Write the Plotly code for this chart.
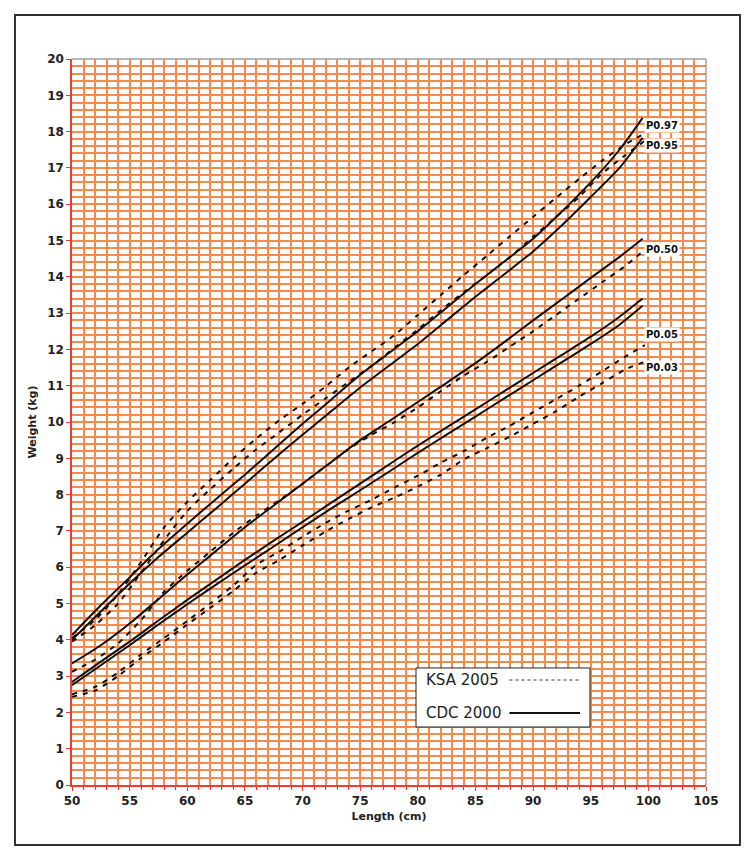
import plotly.graph_objects as go

# ---------------- data ----------------
length_cdc = [50, 52.5, 55, 57.5, 60, 62.5, 65, 67.5, 70, 72.5, 75, 77.5, 80,
              82.5, 85, 87.5, 90, 92.5, 95, 97.5, 99.5]
cdc_p97 = [4.13, 4.95, 5.72, 6.50, 7.20, 7.88, 8.55, 9.25, 9.95, 10.62, 11.30,
           11.90, 12.50, 13.15, 13.80, 14.42, 15.05, 15.80, 16.60, 17.50, 18.38]
cdc_p95 = [4.00, 4.78, 5.55, 6.28, 6.95, 7.62, 8.30, 8.98, 9.65, 10.30, 10.95,
           11.55, 12.15, 12.80, 13.45, 14.07, 14.70, 15.42, 16.20, 17.00, 17.83]
cdc_p50 = [3.35, 3.85, 4.45, 5.12, 5.80, 6.45, 7.10, 7.70, 8.30, 8.90, 9.50,
           10.02, 10.55, 11.08, 11.62, 12.20, 12.80, 13.38, 13.97, 14.55, 15.05]
cdc_p05 = [2.84, 3.40, 3.95, 4.53, 5.10, 5.65, 6.20, 6.73, 7.25, 7.78, 8.30,
           8.83, 9.35, 9.85, 10.35, 10.85, 11.35, 11.85, 12.35, 12.90, 13.40]
cdc_p03 = [2.75, 3.30, 3.85, 4.42, 4.98, 5.52, 6.05, 6.57, 7.10, 7.62, 8.12,
           8.63, 9.15, 9.65, 10.15, 10.65, 11.15, 11.65, 12.15, 12.68, 13.20]

length_ksa = [50, 52, 54, 56, 58, 60, 62, 64, 66, 68, 70, 72, 74, 76, 78, 80,
              82, 84, 86, 88, 90, 92, 94, 96, 98, 99.7]
ksa_p97 = [4.05, 4.55, 5.25, 6.15, 7.10, 7.80, 8.40, 9.00, 9.55, 10.05, 10.50,
           10.98, 11.50, 11.95, 12.40, 12.95, 13.50, 14.05, 14.58, 15.12, 15.65,
           16.18, 16.70, 17.20, 17.65, 17.95]
ksa_p95 = [3.95, 4.40, 5.00, 5.85, 6.75, 7.55, 8.15, 8.72, 9.25, 9.72, 10.20,
           10.65, 11.10, 11.55, 12.05, 12.55, 13.08, 13.58, 14.05, 14.55, 15.10,
           15.65, 16.20, 16.85, 17.35, 17.75]
ksa_p50 = [3.12, 3.45, 3.90, 4.55, 5.33, 5.90, 6.43, 6.95, 7.42, 7.85, 8.30,
           8.78, 9.25, 9.65, 10.00, 10.40, 10.85, 11.28, 11.66, 12.08, 12.50,
           12.95, 13.40, 13.85, 14.30, 14.75]
ksa_p05 = [2.50, 2.70, 3.10, 3.60, 4.05, 4.52, 5.00, 5.50, 6.07, 6.43, 6.84,
           7.22, 7.56, 7.86, 8.20, 8.52, 8.88, 9.20, 9.57, 9.90, 10.27, 10.63,
           11.00, 11.40, 11.80, 12.12]
ksa_p03 = [2.43, 2.60, 3.00, 3.50, 3.95, 4.42, 4.88, 5.35, 5.85, 6.20, 6.60,
           6.98, 7.33, 7.65, 7.92, 8.22, 8.55, 8.97, 9.28, 9.60, 9.95, 10.30,
           10.70, 11.07, 11.45, 11.66]

percentile_labels = ["P0.97", "P0.95", "P0.50", "P0.05", "P0.03"]
legend_names = ["KSA 2005", "CDC 2000"]

# ---------------- figure ----------------
GRID = "#F58A4C"
AXIS = "#F03C2C"
FONT = "DejaVu Sans"

fig = go.Figure()

for ys in [ksa_p97, ksa_p95, ksa_p50, ksa_p05, ksa_p03]:
    fig.add_trace(go.Scatter(
        x=length_ksa, y=ys, mode="lines",
        line=dict(color="#111111", width=2, dash="5px,6px", shape="spline", smoothing=0.6),
        showlegend=False, hoverinfo="skip"))

for ys in [cdc_p97, cdc_p95, cdc_p50, cdc_p05, cdc_p03]:
    fig.add_trace(go.Scatter(
        x=length_cdc, y=ys, mode="lines",
        line=dict(color="#111111", width=2, shape="spline", smoothing=0.6),
        showlegend=False, hoverinfo="skip"))

# percentile labels
label_y = [18.18, 17.63, 14.74, 12.42, 11.49]
for txt, yy in zip(percentile_labels, label_y):
    fig.add_annotation(x=99.6, y=yy, text=txt, showarrow=False, xanchor="left",
                       yanchor="middle", bgcolor="white",
                       font=dict(family=FONT, size=10, color="#111111", weight="bold"),
                       borderpad=1)

# outer frame
fig.add_shape(type="rect", xref="paper", yref="paper",
              x0=-0.0899, x1=1.0536, y0=-0.0826, y1=1.0606,
              line=dict(color="#333333", width=2), fillcolor="rgba(0,0,0,0)", layer="above")
# gray top/right plot borders
fig.add_shape(type="line", xref="paper", yref="paper", x0=0, x1=1, y0=1, y1=1,
              line=dict(color="#A0A0A0", width=1.5), layer="above")
fig.add_shape(type="line", xref="paper", yref="paper", x0=1, x1=1, y0=0, y1=1,
              line=dict(color="#A0A0A0", width=1.5), layer="above")

# custom legend box
fig.add_shape(type="rect", xref="paper", yref="paper",
              x0=0.5426, x1=0.8170, y0=0.0799, y1=0.1612,
              line=dict(color="#222222", width=1), fillcolor="white", layer="above")
fig.add_annotation(xref="paper", yref="paper", x=0.5552, y=0.1446, text=legend_names[0],
                   showarrow=False, xanchor="left", yanchor="middle",
                   font=dict(family=FONT, size=15, color="#222222"))
fig.add_annotation(xref="paper", yref="paper", x=0.5552, y=0.0992, text=legend_names[1],
                   showarrow=False, xanchor="left", yanchor="middle",
                   font=dict(family=FONT, size=15, color="#222222"))
fig.add_shape(type="line", xref="paper", yref="paper", x0=0.6900, x1=0.8013,
              y0=0.1446, y1=0.1446, line=dict(color="#333333", width=1.2, dash="dot"),
              layer="above")
fig.add_shape(type="line", xref="paper", yref="paper", x0=0.6900, x1=0.8013,
              y0=0.0992, y1=0.0992, line=dict(color="#111111", width=2),
              layer="above")

fig.update_layout(
    width=746, height=850,
    margin=dict(l=64, r=48, t=51, b=73),
    paper_bgcolor="white", plot_bgcolor="white",
    font=dict(family=FONT, color="#222222"),
    xaxis=dict(
        range=[50, 105], tick0=50, dtick=5, showgrid=True, gridcolor=GRID, gridwidth=1.5,
        zeroline=False, showline=True, linecolor=AXIS, linewidth=1.5,
        ticks="outside", ticklen=4, tickcolor=AXIS,
        tickfont=dict(family=FONT, size=12, color="#222222", weight="bold"),
        minor=dict(dtick=1, showgrid=True, gridcolor=GRID, gridwidth=1.5,
                   ticks="outside", ticklen=3, tickcolor=AXIS),
        title=dict(text="Length (cm)", standoff=5,
                   font=dict(family=FONT, size=11, color="#222222", weight="bold")),
    ),
    yaxis=dict(
        range=[0, 20], tick0=0, dtick=1, showgrid=True, gridcolor=GRID, gridwidth=1.5,
        zeroline=False, showline=True, linecolor=AXIS, linewidth=1.5,
        ticks="outside", ticklen=4, tickcolor=AXIS,
        tickfont=dict(family=FONT, size=12, color="#222222", weight="bold"),
        minor=dict(dtick=0.2, tick0=0, showgrid=True, gridcolor=GRID, gridwidth=1.5),
        title=dict(text="Weight (kg)", standoff=8,
                   font=dict(family=FONT, size=11, color="#222222", weight="bold")),
    ),
)

fig.write_html("out.html")
